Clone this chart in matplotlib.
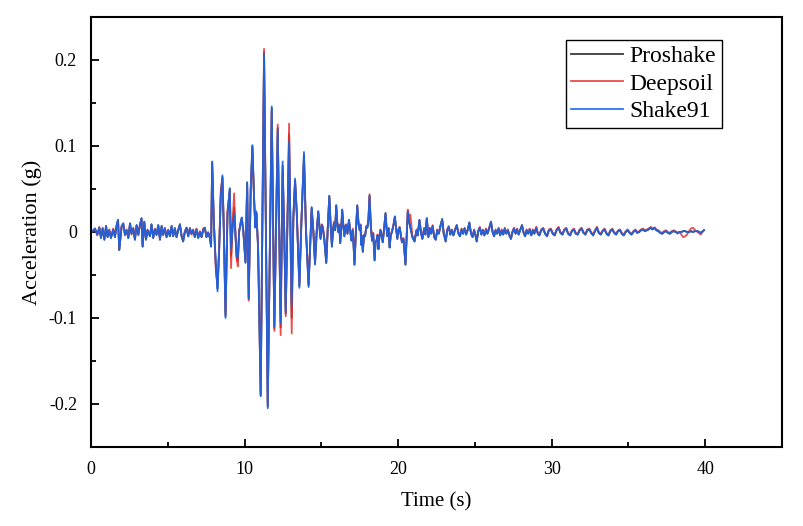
import matplotlib
matplotlib.use("Agg")
import matplotlib.pyplot as plt
from matplotlib.ticker import MultipleLocator, FixedLocator, FixedFormatter

# ---------------- data ----------------
# pre-event noise, 0 - 7.8 s
t_pre = [0.04, 0.26, 0.41, 0.54, 0.65, 0.76, 0.87, 0.98, 1.08, 1.19, 1.30, 1.45, 1.56, 1.67,
         1.76, 1.84, 1.99, 2.10, 2.21, 2.32, 2.43, 2.54, 2.64, 2.75, 2.86, 2.97, 3.08, 3.19,
         3.29, 3.36, 3.47, 3.58, 3.68, 3.84, 3.94, 4.05, 4.16, 4.27, 4.38, 4.49, 4.60, 4.70,
         4.81, 4.92, 5.03, 5.14, 5.25, 5.35, 5.46, 5.57, 5.68, 5.79, 5.90, 6.00, 6.11, 6.22,
         6.33, 6.44, 6.55, 6.65, 6.76, 6.87, 6.98, 7.09, 7.20, 7.31, 7.41, 7.52, 7.63, 7.74]
shake91_pre = [0.000, 0.004, -0.003, 0.005, -0.007, 0.004, -0.009, 0.007, -0.006, 0.002, -0.007,
               0.003, -0.006, 0.008, 0.014, -0.021, 0.006, 0.010, -0.003, 0.002, -0.007, 0.010,
               -0.002, 0.004, -0.009, 0.008, -0.003, 0.008, 0.016, -0.017, 0.012, -0.009, 0.002,
               -0.005, 0.009, -0.007, 0.003, -0.003, 0.008, -0.009, 0.007, -0.003, 0.004, -0.006,
               0.002, -0.005, 0.007, -0.005, 0.004, -0.006, 0.002, 0.009, -0.005, -0.011, 0.000,
               0.005, -0.005, 0.004, -0.002, 0.002, -0.006, 0.003, -0.007, 0.000, -0.006, 0.003,
               0.005, -0.006, -0.001, -0.007]
deepsoil_pre = [0.000, 0.003, -0.004, 0.006, -0.006, 0.005, -0.008, 0.006, -0.005, 0.003, -0.006,
                0.004, -0.005, 0.007, 0.013, -0.020, 0.007, 0.009, -0.004, 0.003, -0.006, 0.009,
                -0.003, 0.005, -0.008, 0.007, -0.004, 0.009, 0.015, -0.016, 0.011, -0.008, 0.003,
                -0.004, 0.008, -0.006, 0.004, -0.004, 0.007, -0.008, 0.006, -0.004, 0.005, -0.005,
                0.003, -0.004, 0.006, -0.004, 0.005, -0.005, 0.003, 0.008, -0.004, -0.010, 0.001,
                0.004, -0.004, 0.005, -0.003, 0.003, -0.005, 0.004, -0.006, 0.001, -0.005, 0.004,
                0.004, -0.005, 0.000, -0.006]
proshake_pre = list(shake91_pre)

# strong motion, 7.8 - 14.7 s
t_strong = [7.82, 7.89, 8.00, 8.13, 8.24, 8.35, 8.45, 8.56, 8.65, 8.76, 8.89, 9.04, 9.12, 9.22,
            9.32, 9.42, 9.49, 9.56, 9.65, 9.75, 9.82, 9.92, 10.06, 10.17, 10.27, 10.40, 10.51,
            10.62, 10.70, 10.77, 10.88, 11.05, 11.27, 11.51, 11.77, 11.94, 12.05, 12.16, 12.35,
            12.48, 12.58, 12.68, 12.90, 13.07, 13.18, 13.29, 13.40, 13.57, 13.70, 13.87, 14.00,
            14.17, 14.37, 14.48, 14.59, 14.70]
shake91_strong = [-0.017, 0.082, 0.010, -0.038, -0.069, -0.020, 0.040, 0.066, 0.000, -0.100,
                  0.020, 0.051, -0.020, 0.005, 0.020, -0.010, -0.029, -0.030, 0.000, 0.012,
                  0.017, 0.000, -0.036, 0.058, -0.077, 0.050, 0.101, 0.040, 0.005, 0.024,
                  -0.019, -0.191, 0.206, -0.205, 0.146, -0.110, 0.000, 0.119, -0.105, 0.082,
                  0.000, -0.093, 0.105, -0.085, 0.020, 0.062, 0.020, -0.065, 0.010, 0.093,
                  0.000, -0.064, 0.029, 0.000, -0.038, 0.000]
deepsoil_strong = [-0.015, 0.080, 0.012, -0.045, -0.060, -0.015, 0.050, 0.062, 0.005, -0.095,
                   0.025, 0.048, -0.042, 0.010, 0.045, -0.005, -0.032, -0.040, 0.002, 0.010,
                   0.015, 0.002, -0.034, 0.055, -0.080, 0.048, 0.098, 0.038, 0.008, 0.020,
                   -0.015, -0.188, 0.213, -0.200, 0.140, -0.115, 0.004, 0.125, -0.120, 0.070,
                   0.004, -0.098, 0.126, -0.118, 0.015, 0.058, 0.025, -0.060, 0.012, 0.085,
                   0.004, -0.060, 0.026, 0.003, -0.035, 0.002]
proshake_strong = [-0.017, 0.081, 0.011, -0.040, -0.066, -0.018, 0.043, 0.064, 0.002, -0.098,
                   0.022, 0.050, -0.028, 0.007, 0.028, -0.008, -0.030, -0.034, 0.001, 0.011,
                   0.016, 0.001, -0.035, 0.057, -0.078, 0.049, 0.100, 0.039, 0.006, 0.022,
                   -0.017, -0.190, 0.209, -0.203, 0.144, -0.112, 0.002, 0.121, -0.111, 0.077,
                   0.002, -0.095, 0.114, -0.100, 0.018, 0.060, 0.022, -0.063, 0.011, 0.090,
                   0.002, -0.062, 0.028, 0.001, -0.037, 0.001]

# coda, 14.8 - 20.7 s
t_coda = [14.80, 14.88, 14.95, 15.03, 15.10, 15.20, 15.32, 15.42, 15.52, 15.60, 15.69, 15.76,
          15.82, 15.90, 15.97, 16.04, 16.10, 16.17, 16.23, 16.30, 16.36, 16.43, 16.50, 16.56,
          16.62, 16.70, 16.80, 16.88, 16.95, 17.05, 17.16, 17.25, 17.34, 17.42, 17.50, 17.55,
          17.60, 17.65, 17.70, 17.78, 17.85, 17.93, 18.00, 18.07, 18.14, 18.22, 18.30, 18.38,
          18.47, 18.53, 18.60, 18.66, 18.72, 18.78, 18.85, 18.92, 19.00, 19.08, 19.18, 19.24,
          19.30, 19.38, 19.45, 19.52, 19.60, 19.70, 19.79, 19.87, 19.95, 20.02, 20.10, 20.18,
          20.25, 20.35, 20.48, 20.56, 20.63, 20.72]
shake91_coda = [0.024, 0.005, -0.008, 0.008, 0.005, -0.010, -0.036, 0.005, 0.042, 0.010, -0.017,
                0.002, 0.010, 0.002, 0.031, 0.010, 0.000, 0.008, -0.013, 0.005, 0.026, 0.008,
                -0.005, 0.006, 0.008, -0.002, 0.014, 0.002, -0.010, 0.002, -0.038, 0.000, 0.031,
                0.010, 0.002, 0.008, -0.015, -0.005, -0.023, -0.004, -0.005, 0.006, 0.005, 0.015,
                0.042, 0.008, -0.010, -0.002, -0.033, -0.012, -0.010, -0.004, -0.020, -0.006,
                0.002, -0.004, -0.012, 0.002, 0.022, 0.006, -0.005, 0.004, -0.018, -0.004, 0.000,
                0.008, 0.018, 0.004, -0.008, 0.002, 0.005, -0.004, -0.012, -0.008, -0.038,
                -0.005, 0.024, 0.012]
deepsoil_coda = [0.022, 0.006, -0.006, 0.009, 0.006, -0.008, -0.034, 0.006, 0.040, 0.011, -0.015,
                 0.003, 0.012, 0.003, 0.029, 0.011, 0.002, 0.009, -0.011, 0.006, 0.024, 0.009,
                 -0.003, 0.007, 0.009, -0.001, 0.012, 0.003, -0.008, 0.004, -0.035, 0.001, 0.029,
                 0.011, 0.004, 0.009, -0.013, -0.004, -0.021, -0.003, -0.004, 0.007, 0.006, 0.016,
                 0.044, 0.009, -0.008, -0.001, -0.031, -0.011, -0.009, -0.003, -0.018, -0.005,
                 0.003, -0.003, -0.010, 0.003, 0.020, 0.007, -0.004, 0.005, -0.016, -0.003, 0.001,
                 0.009, 0.016, 0.005, -0.007, 0.003, 0.006, -0.003, -0.011, -0.007, -0.036,
                 -0.004, 0.026, 0.018]
proshake_coda = list(shake91_coda)

# decay, 20.8 - 40 s
t_tail = [20.80, 20.93, 21.07, 21.20, 21.28, 21.39, 21.50, 21.58, 21.70, 21.78, 21.87, 21.97,
          22.07, 22.15, 22.25, 22.35, 22.45, 22.55, 22.65, 22.75, 22.87, 22.97, 23.10, 23.20,
          23.30, 23.40, 23.50, 23.60, 23.72, 23.82, 23.93, 24.03, 24.13, 24.23, 24.33, 24.43,
          24.53, 24.64, 24.75, 24.85, 24.95, 25.04, 25.12, 25.22, 25.32, 25.42, 25.52, 25.62,
          25.72, 25.82, 25.93, 26.05, 26.15, 26.25, 26.35, 26.45, 26.55, 26.65, 26.75, 26.85,
          26.95, 27.05, 27.15, 27.25, 27.35, 27.45, 27.55, 27.65, 27.75, 27.85, 27.95, 28.07,
          28.17, 28.27, 28.37, 28.47, 28.57, 28.67, 28.77, 28.87, 29.00, 29.10, 29.20, 29.32,
          29.45, 29.57, 29.70, 29.82, 29.95, 30.07, 30.20, 30.32, 30.45, 30.57, 30.70, 30.82,
          30.95, 31.07, 31.20, 31.32, 31.45, 31.57, 31.70, 31.82, 31.95, 32.07, 32.20, 32.32,
          32.45, 32.57, 32.70, 32.82, 32.95, 33.07, 33.20, 33.32, 33.45, 33.57, 33.70, 33.82,
          33.95, 34.07, 34.20, 34.32, 34.45, 34.57, 34.70, 34.82, 34.95, 35.07, 35.20, 35.32,
          35.45, 35.57, 35.70, 35.82, 35.95, 36.07, 36.20, 36.32, 36.45, 36.57, 36.70, 36.82,
          36.95, 37.07, 37.20, 37.32, 37.45, 37.57, 37.70, 37.82, 37.95, 38.07, 38.20, 38.32,
          38.45, 38.57, 38.70, 38.82, 38.95, 39.07, 39.20, 39.35, 39.50, 39.70, 39.92]
shake91_tail = [0.005, -0.006, -0.011, 0.002, -0.004, 0.014, -0.002, -0.008, 0.004, -0.003,
                0.016, -0.006, 0.004, -0.002, 0.007, -0.006, -0.009, 0.002, -0.002, 0.006,
                0.015, -0.002, -0.011, 0.002, 0.006, -0.003, 0.002, -0.004, 0.003, 0.008,
                -0.002, -0.005, 0.003, -0.002, 0.004, -0.003, 0.002, 0.011, -0.002, -0.006,
                0.002, -0.004, -0.011, 0.001, 0.005, -0.003, 0.002, -0.004, 0.003, -0.002,
                0.004, 0.012, 0.000, -0.005, 0.002, -0.002, 0.004, -0.004, 0.002, -0.003,
                0.004, -0.002, 0.002, -0.004, -0.008, 0.000, 0.004, -0.002, 0.003, -0.003,
                0.002, 0.008, -0.001, -0.005, 0.002, -0.002, 0.003, -0.004, 0.002, -0.002,
                0.005, -0.002, -0.004, 0.002, 0.004, -0.002, -0.005, 0.002, 0.003, -0.002,
                -0.004, 0.002, 0.005, -0.001, -0.003, 0.002, 0.004, -0.002, -0.004, 0.001,
                0.003, -0.002, -0.003, 0.002, 0.004, -0.001, -0.003, 0.002, 0.003, -0.001,
                -0.004, 0.001, 0.005, -0.001, -0.003, 0.001, 0.003, -0.002, -0.004, 0.001,
                0.003, -0.001, -0.003, 0.001, 0.002, -0.002, -0.004, 0.000, 0.002, -0.001,
                -0.003, 0.000, 0.002, -0.001, 0.000, 0.002, 0.003, 0.001, 0.002, 0.003,
                0.005, 0.003, 0.005, 0.002, 0.001, -0.001, -0.002, 0.000, 0.001, -0.001,
                -0.002, 0.000, 0.001, 0.000, -0.001, 0.000, 0.000, 0.001, 0.001, 0.000,
                0.000, 0.001, 0.000, 0.001, 0.001, -0.001, 0.002]
deepsoil_tail = [0.020, -0.004, -0.010, 0.003, -0.003, 0.013, -0.001, -0.007, 0.005, -0.002,
                 0.015, -0.005, 0.005, -0.001, 0.008, -0.005, -0.008, 0.003, -0.001, 0.007,
                 0.014, -0.001, -0.010, 0.003, 0.007, -0.002, 0.003, -0.003, 0.004, 0.007,
                 -0.001, -0.004, 0.004, -0.001, 0.005, -0.002, 0.003, 0.010, -0.001, -0.005,
                 0.003, -0.003, -0.010, 0.002, 0.006, -0.002, 0.003, -0.003, 0.004, -0.001,
                 0.005, 0.011, 0.001, -0.004, 0.003, -0.001, 0.005, -0.003, 0.003, -0.002,
                 0.005, -0.001, 0.003, -0.003, -0.007, 0.001, 0.005, -0.001, 0.004, -0.002,
                 0.003, 0.007, 0.000, -0.004, 0.003, -0.001, 0.004, -0.003, 0.003, -0.001,
                 0.006, -0.001, -0.003, 0.003, 0.005, -0.001, -0.004, 0.003, 0.004, -0.001,
                 -0.003, 0.003, 0.006, 0.000, -0.002, 0.003, 0.005, -0.001, -0.003, 0.002,
                 0.004, -0.001, -0.002, 0.003, 0.005, 0.000, -0.002, 0.003, 0.004, 0.000,
                 -0.003, 0.002, 0.006, 0.000, -0.002, 0.002, 0.004, -0.001, -0.003, 0.002,
                 0.004, 0.000, -0.002, 0.002, 0.003, -0.001, -0.003, 0.001, 0.003, 0.000,
                 -0.002, 0.001, 0.003, 0.000, 0.001, 0.003, 0.004, 0.002, 0.003, 0.004,
                 0.006, 0.004, 0.005, 0.003, 0.002, 0.000, -0.001, 0.001, 0.002, 0.000,
                 -0.001, 0.001, 0.002, 0.001, -0.002, 0.000, -0.003, -0.006, -0.005, -0.003,
                 0.001, 0.004, 0.005, 0.002, 0.000, -0.003, 0.002]
proshake_tail = list(shake91_tail)

x_ticks = [0, 10, 20, 30, 40]
y_ticks = [-0.2, -0.1, 0.0, 0.1, 0.2]
y_tick_labels = ["-0.2", "-0.1", "0", "0.1", "0.2"]

time_s = t_pre + t_strong + t_coda + t_tail
proshake = proshake_pre + proshake_strong + proshake_coda + proshake_tail
deepsoil = deepsoil_pre + deepsoil_strong + deepsoil_coda + deepsoil_tail
shake91 = shake91_pre + shake91_strong + shake91_coda + shake91_tail
assert len(time_s) == len(proshake) == len(deepsoil) == len(shake91)

# ---------------- plot ----------------
plt.rcParams['font.family'] = ['Liberation Serif', 'DejaVu Serif']
plt.rcParams['axes.unicode_minus'] = False

fig = plt.figure(figsize=(8.04, 5.26), dpi=100)
ax = fig.add_axes([0.1132, 0.1502, 0.8594, 0.8175])

ax.plot(time_s, proshake, color='#3a3a3a', lw=1.3, label='Proshake')
ax.plot(time_s, deepsoil, color='#e8302c', lw=1.3, alpha=0.85, label='Deepsoil')
ax.plot(time_s, shake91, color='#1565e8', lw=1.3, alpha=0.9, label='Shake91')

ax.set_xlim(0, 45)
ax.set_ylim(-0.25, 0.25)
ax.xaxis.set_major_locator(FixedLocator(x_ticks))
ax.xaxis.set_minor_locator(MultipleLocator(5))
ax.yaxis.set_major_locator(FixedLocator(y_ticks))
ax.yaxis.set_major_formatter(FixedFormatter(y_tick_labels))
ax.yaxis.set_minor_locator(MultipleLocator(0.05))

for s in ax.spines.values():
    s.set_linewidth(1.5)
ax.tick_params(which='both', direction='in', width=1.3, labelsize=13)
ax.tick_params(which='major', length=6)
ax.tick_params(which='minor', length=3.6)
ax.tick_params(axis='y', pad=10)
ax.tick_params(axis='x', pad=10)

ax.set_xlabel('Time (s)', fontsize=15, labelpad=10)
ax.set_ylabel('Acceleration (g)', fontsize=16, labelpad=5)

leg = ax.legend(loc='upper right', bbox_to_anchor=(0.913, 0.947), borderaxespad=0,
                fontsize=17, frameon=True, fancybox=False, edgecolor='black', framealpha=1,
                handlelength=2.2, borderpad=0.25, labelspacing=0.25, handletextpad=0.25)
leg.get_frame().set_linewidth(1.0)

fig.savefig('out.png', dpi=100)
